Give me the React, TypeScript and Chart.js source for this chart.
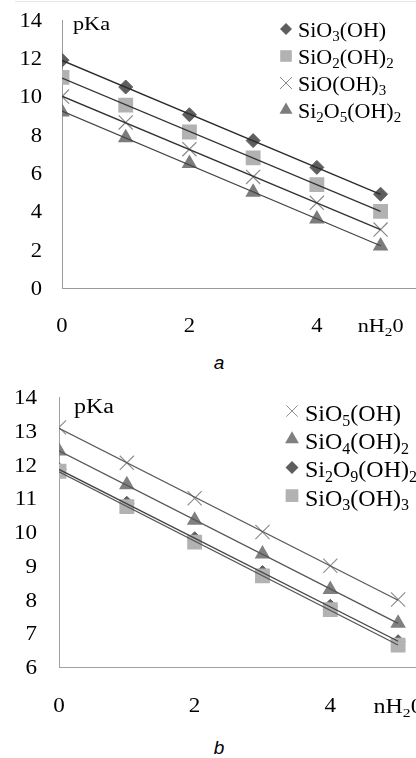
import React, { useEffect, useRef } from 'react';
import { Chart, registerables } from 'chart.js';

Chart.register(...registerables);

// ---------- data ----------
const nH2OValues = [0, 1, 2, 3, 4, 5];
const xTickValues = [0, 2, 4];
const yTitle = 'pKa';
const xTitle = 'nH₂0';

// panel a
const aNames = ['SiO₃(OH)', 'SiO₂(OH)₂', 'SiO(OH)₃', 'Si₂O₅(OH)₂'];
const aSiO3OH = [11.9, 10.5, 9.05, 7.7, 6.3, 4.9];
const aSiO2OH2 = [11.0, 9.55, 8.15, 6.8, 5.4, 4.0];
const aSiOOH3 = [10.0, 8.65, 7.25, 5.8, 4.45, 3.05];
const aSi2O5OH2 = [9.2, 7.85, 6.5, 5.0, 3.6, 2.2];
const aYTicks = [0, 2, 4, 6, 8, 10, 12, 14];

// panel b
const bNames = ['SiO₅(OH)', 'SiO₄(OH)₂', 'Si₂O₉(OH)₂', 'SiO₃(OH)₃'];
const bSiO5OH = [13.1, 12.05, 11.0, 10.0, 9.0, 8.0];
const bSiO4OH2 = [12.4, 11.4, 10.35, 9.35, 8.3, 7.3];
const bSi2O9OH2 = [11.85, 10.85, 9.8, 8.8, 7.8, 6.75];
const bSiO3OH3 = [11.8, 10.75, 9.7, 8.7, 7.7, 6.65];
const bYTicks = [6, 7, 8, 9, 10, 11, 12, 13, 14];

// ---------- helpers ----------
const SERIF = '"Liberation Serif", "Times New Roman", Times, serif';
const SUB: Record<string, string> = {
  '₀': '0', '₁': '1', '₂': '2', '₃': '3', '₄': '4',
  '₅': '5', '₆': '6', '₇': '7', '₈': '8', '₉': '9',
};

function fit(xs: number[], ys: number[]) {
  const n = xs.length;
  const mx = xs.reduce((a, b) => a + b, 0) / n;
  const my = ys.reduce((a, b) => a + b, 0) / n;
  let sxy = 0, sxx = 0;
  for (let i = 0; i < n; i++) {
    sxy += (xs[i] - mx) * (ys[i] - my);
    sxx += (xs[i] - mx) * (xs[i] - mx);
  }
  const slope = sxy / sxx;
  return { slope, intercept: my - slope * mx };
}

function drawRich(ctx: CanvasRenderingContext2D, text: string, x: number, y: number,
  size: number, align: 'left' | 'center' | 'right', stretch: number) {
  const runs: { t: string; sub: boolean }[] = [];
  for (const ch of Array.from(text)) {
    const sub = !!SUB[ch];
    const t = sub ? SUB[ch] : ch;
    const last = runs[runs.length - 1];
    if (last && last.sub === sub) last.t += t; else runs.push({ t, sub });
  }
  const subSize = Math.round(size * 0.66);
  const fontFor = (sub: boolean) => `${sub ? subSize : size}px ${SERIF}`;
  let w = 0;
  for (const r of runs) { ctx.font = fontFor(r.sub); w += ctx.measureText(r.t).width; }
  ctx.save();
  ctx.translate(x, y);
  ctx.scale(stretch, 1);
  ctx.fillStyle = '#000';
  ctx.textAlign = 'left';
  ctx.textBaseline = 'alphabetic';
  let cx = align === 'center' ? -w / 2 : align === 'right' ? -w : 0;
  for (const r of runs) {
    ctx.font = fontFor(r.sub);
    ctx.fillText(r.t, cx, r.sub ? size * 0.2 : 0);
    cx += ctx.measureText(r.t).width;
  }
  ctx.restore();
}

function drawMarker(ctx: CanvasRenderingContext2D, style: string, x: number, y: number,
  r: number, fill: string, stroke: string, lw: number) {
  ctx.save();
  ctx.beginPath();
  ctx.fillStyle = fill;
  ctx.strokeStyle = stroke;
  ctx.lineWidth = lw;
  if (style === 'rectRot') {
    ctx.moveTo(x, y - r); ctx.lineTo(x + r, y); ctx.lineTo(x, y + r); ctx.lineTo(x - r, y);
    ctx.closePath(); ctx.fill();
  } else if (style === 'rect') {
    const s = r * Math.SQRT1_2;
    ctx.rect(x - s, y - s, 2 * s, 2 * s); ctx.fill();
  } else if (style === 'crossRot') {
    const d = r * Math.SQRT1_2;
    ctx.moveTo(x - d, y - d); ctx.lineTo(x + d, y + d);
    ctx.moveTo(x + d, y - d); ctx.lineTo(x - d, y + d);
    ctx.stroke();
  } else if (style === 'triangle') {
    const s = Math.sin(Math.PI / 3) * r;
    ctx.moveTo(x, y - r); ctx.lineTo(x + s, y + r / 2); ctx.lineTo(x - s, y + r / 2);
    ctx.closePath(); ctx.fill();
  }
  ctx.restore();
}

type Series = {
  name: string; values: number[]; style: string; fill: string; stroke: string;
  radius: number; legendRadius: number; borderWidth: number; line: string; order: number;
};

type PanelSpec = {
  width: number; height: number; padTop: number; padRight: number;
  yAxisWidth: number; xAxisHeight: number; xMax: number;
  yMin: number; yMax: number; yTicks: number[];
  tickSize: number; tickStretch: number; yTickPad: number; xTickBaseline: number;
  axisColor: string; lineWidth: number;
  series: Series[];
  titleSize: number; titleStretch: number; yTitleX: number; yTitleY: number; xTitleY: number;
  legendSize: number; markerX: number; textX: number; legendY: number; legendGap: number; markerOffset: number;
};

const DIAMOND = { style: 'rectRot', fill: '#5e5e5e', stroke: '#5e5e5e', radius: 7, borderWidth: 1 };
const SQUARE = { style: 'rect', fill: '#b2b2b2', stroke: '#b2b2b2', radius: 10.5, borderWidth: 0 };
const CROSS = { style: 'crossRot', fill: 'rgba(0,0,0,0)', stroke: '#9a9a9a', radius: 10, borderWidth: 1.2 };
const TRIANGLE = { style: 'triangle', fill: '#7c7c7c', stroke: '#7c7c7c', radius: 9, borderWidth: 0 };

const panelA: PanelSpec = {
  width: 430, height: 345, padTop: 20, padRight: 11, yAxisWidth: 62, xAxisHeight: 57, xMax: 5.6,
  yMin: 0, yMax: 14, yTicks: aYTicks, tickSize: 20, tickStretch: 1.13, yTickPad: 20, xTickBaseline: 332,
  axisColor: '#9a9a9a', lineWidth: 1.3,
  series: [
    { name: aNames[0], values: aSiO3OH, ...DIAMOND, legendRadius: 6, line: '#2a2a2a', order: 5 },
    { name: aNames[1], values: aSiO2OH2, ...SQUARE, legendRadius: 8.2, line: '#333333', order: 5 },
    { name: aNames[2], values: aSiOOH3, ...CROSS, legendRadius: 8.5, stroke: '#8a8a8a', line: '#333333', order: 5 },
    { name: aNames[3], values: aSi2O5OH2, ...TRIANGLE, legendRadius: 7.5, line: '#444444', order: 5 },
  ],
  titleSize: 19, titleStretch: 1.17, yTitleX: 73, yTitleY: 30, xTitleY: 332,
  legendSize: 22, markerX: 286, textX: 298, legendY: 37, legendGap: 27, markerOffset: 8,
};

const panelB: PanelSpec = {
  width: 450, height: 350, padTop: 27, padRight: 10, yAxisWidth: 59, xAxisHeight: 53, xMax: 5.6,
  yMin: 6, yMax: 14, yTicks: bYTicks, tickSize: 21, tickStretch: 1.1, yTickPad: 22, xTickBaseline: 342,
  axisColor: '#a0a0a0', lineWidth: 1.3,
  series: [
    { name: bNames[0], values: bSiO5OH, ...CROSS, legendRadius: 8, stroke: '#8f8f8f', line: '#5a5a5a', order: 5 },
    { name: bNames[1], values: bSiO4OH2, ...TRIANGLE, fill: '#808080', stroke: '#808080', legendRadius: 8, line: '#555555', order: 5 },
    { name: bNames[2], values: bSi2O9OH2, ...DIAMOND, legendRadius: 6.5, line: '#444444', order: 6 },
    { name: bNames[3], values: bSiO3OH3, ...SQUARE, legendRadius: 9, line: '#555555', order: 5 },
  ],
  titleSize: 20, titleStretch: 1.2, yTitleX: 74, yTitleY: 43, xTitleY: 343,
  legendSize: 24, markerX: 292, textX: 305, legendY: 51, legendGap: 28.2, markerOffset: 10,
};

function makeTextPlugin(s: PanelSpec) {
  return {
    id: 'richText',
    afterDatasetsDraw(chart: any) {
      const ctx: CanvasRenderingContext2D = chart.ctx;
      const xs = chart.scales.x;
      const ys = chart.scales.y;
      const area = chart.chartArea;
      // tick labels
      s.yTicks.forEach((v) => {
        drawRich(ctx, String(v), area.left - s.yTickPad, ys.getPixelForValue(v) + s.tickSize * 0.34,
          s.tickSize, 'right', s.tickStretch);
      });
      xTickValues.forEach((v) => {
        drawRich(ctx, String(v), xs.getPixelForValue(v), s.xTickBaseline, s.tickSize, 'center', s.tickStretch);
      });
      // axis titles
      drawRich(ctx, yTitle, s.yTitleX, s.yTitleY, s.titleSize, 'left', s.titleStretch);
      drawRich(ctx, xTitle, xs.getPixelForValue(nH2OValues[nH2OValues.length - 1]), s.xTitleY,
        s.titleSize, 'center', s.titleStretch);
      // legend
      s.series.forEach((se, i) => {
        const base = s.legendY + i * s.legendGap;
        drawMarker(ctx, se.style, s.markerX, base - s.markerOffset, se.legendRadius, se.fill, se.stroke,
          se.style === 'crossRot' ? 1 : 0);
        drawRich(ctx, se.name, s.textX, base, s.legendSize, 'left', 1);
      });
    },
  };
}

function buildConfig(s: PanelSpec): any {
  const datasets: any[] = [];
  s.series.forEach((se) => {
    datasets.push({
      label: se.name,
      data: nH2OValues.map((x, i) => ({ x, y: se.values[i] })),
      showLine: false,
      pointStyle: se.style,
      pointRadius: se.radius,
      pointHoverRadius: se.radius,
      pointBackgroundColor: se.fill,
      pointBorderColor: se.stroke,
      pointBorderWidth: se.borderWidth,
      order: se.order,
    });
  });
  s.series.forEach((se) => {
    const { slope, intercept } = fit(nH2OValues, se.values);
    const x0 = nH2OValues[0];
    const x1 = nH2OValues[nH2OValues.length - 1];
    datasets.push({
      label: se.name + ' trend',
      data: [{ x: x0, y: intercept + slope * x0 }, { x: x1, y: intercept + slope * x1 }],
      showLine: true,
      pointRadius: 0,
      pointHoverRadius: 0,
      borderColor: se.line,
      borderWidth: s.lineWidth,
      fill: false,
      order: 0,
    });
  });
  return {
    type: 'scatter',
    data: { datasets },
    options: {
      responsive: false,
      animation: false,
      events: [],
      devicePixelRatio: 1,
      layout: { padding: { top: s.padTop, right: s.padRight, left: 0, bottom: 0 } },
      plugins: { legend: { display: false }, tooltip: { enabled: false } },
      scales: {
        x: {
          type: 'linear', min: 0, max: s.xMax,
          grid: { display: false, drawTicks: false },
          border: { display: true, color: s.axisColor, width: 1 },
          ticks: { display: false },
          afterBuildTicks: (sc: any) => { sc.ticks = xTickValues.map((v) => ({ value: v })); },
          afterFit: (sc: any) => { sc.height = s.xAxisHeight; },
        },
        y: {
          type: 'linear', min: s.yMin, max: s.yMax,
          grid: { display: false, drawTicks: false },
          border: { display: true, color: s.axisColor, width: 1 },
          ticks: { display: false },
          afterBuildTicks: (sc: any) => { sc.ticks = s.yTicks.map((v) => ({ value: v })); },
          afterFit: (sc: any) => { sc.width = s.yAxisWidth; },
        },
      },
    },
    plugins: [makeTextPlugin(s)],
  };
}

function Panel({ spec, top }: { spec: PanelSpec; top: number }) {
  const ref = useRef<HTMLCanvasElement>(null);
  useEffect(() => {
    const chart = new Chart(ref.current as HTMLCanvasElement, buildConfig(spec));
    return () => chart.destroy();
  }, [spec]);
  return (
    <canvas
      ref={ref}
      width={spec.width}
      height={spec.height}
      style={{ position: 'absolute', left: 0, top, width: spec.width, height: spec.height }}
    />
  );
}

const captionStyle: React.CSSProperties = {
  position: 'absolute', left: 169, width: 100, textAlign: 'center',
  font: 'italic 19px "Liberation Sans", Arial, sans-serif', lineHeight: '20px', color: '#000',
};

export default function App() {
  return (
    <div style={{ position: 'fixed', left: 0, top: 0, width: 416, height: 758, overflow: 'hidden', background: '#fff' }}>
      <div style={{ position: 'absolute', left: 15, top: 1, width: 401, height: 1, background: '#e6e6e6' }} />
      <Panel spec={panelA} top={0} />
      <div style={{ ...captionStyle, top: 353 }}>a</div>
      <Panel spec={panelB} top={370} />
      <div style={{ ...captionStyle, top: 738 }}>b</div>
    </div>
  );
}
